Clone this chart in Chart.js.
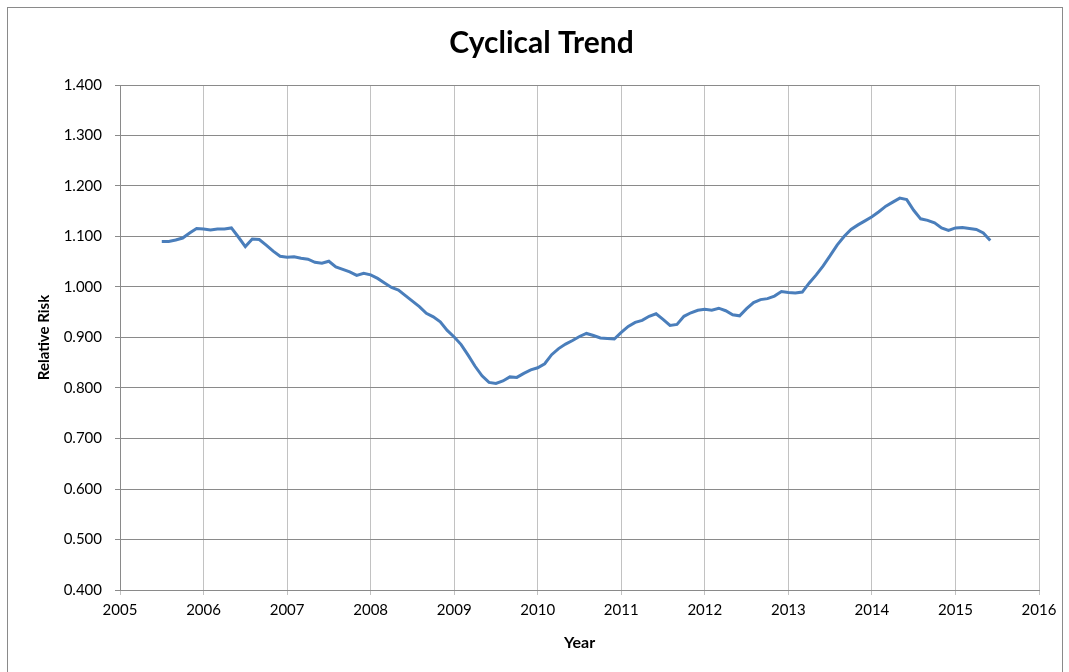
<!DOCTYPE html>
<html>
<head>
<meta charset="utf-8">
<script src="https://cdn.jsdelivr.net/npm/chart.js@4/dist/chart.umd.min.js"></script>
<style>
html,body{margin:0;padding:0;background:#fff;}
#wrap{width:1069px;height:672px;position:relative;}
</style>
</head>
<body>
<div id="wrap"><canvas id="c" width="1069" height="672"></canvas></div>
<script>
// Monthly relative risk values, grouped by calendar year (first value = first month shown)
const v2005 = [1.090, 1.090, 1.093, 1.097, 1.107, 1.116];            // Jul-Dec
const v2006 = [1.115, 1.113, 1.115, 1.115, 1.117, 1.099, 1.080, 1.095, 1.094, 1.083, 1.071, 1.061];
const v2007 = [1.059, 1.060, 1.057, 1.055, 1.049, 1.047, 1.051, 1.040, 1.035, 1.030, 1.023, 1.027];
const v2008 = [1.024, 1.017, 1.008, 0.999, 0.994, 0.983, 0.972, 0.961, 0.948, 0.941, 0.931, 0.914];
const v2009 = [0.901, 0.886, 0.865, 0.843, 0.824, 0.811, 0.809, 0.814, 0.822, 0.821, 0.829, 0.836];
const v2010 = [0.840, 0.848, 0.866, 0.878, 0.887, 0.894, 0.902, 0.908, 0.904, 0.899, 0.898, 0.897];
const v2011 = [0.910, 0.922, 0.930, 0.934, 0.942, 0.947, 0.936, 0.924, 0.926, 0.942, 0.949, 0.954];
const v2012 = [0.956, 0.954, 0.958, 0.953, 0.945, 0.943, 0.957, 0.969, 0.975, 0.977, 0.982, 0.991];
const v2013 = [0.989, 0.988, 0.990, 1.008, 1.024, 1.042, 1.062, 1.083, 1.100, 1.114, 1.123, 1.131];
const v2014 = [1.139, 1.149, 1.160, 1.168, 1.176, 1.173, 1.152, 1.135, 1.132, 1.127, 1.117, 1.112];
const v2015 = [1.117, 1.118, 1.116, 1.114, 1.107, 1.092];            // Jan-Jun

const yearSeries = [
  {year: 2005, firstMonth: 7, values: v2005},
  {year: 2006, firstMonth: 1, values: v2006},
  {year: 2007, firstMonth: 1, values: v2007},
  {year: 2008, firstMonth: 1, values: v2008},
  {year: 2009, firstMonth: 1, values: v2009},
  {year: 2010, firstMonth: 1, values: v2010},
  {year: 2011, firstMonth: 1, values: v2011},
  {year: 2012, firstMonth: 1, values: v2012},
  {year: 2013, firstMonth: 1, values: v2013},
  {year: 2014, firstMonth: 1, values: v2014},
  {year: 2015, firstMonth: 1, values: v2015}
];

const xTickYears = [2005, 2006, 2007, 2008, 2009, 2010, 2011, 2012, 2013, 2014, 2015, 2016];
const yTicks = [0.4, 0.5, 0.6, 0.7, 0.8, 0.9, 1.0, 1.1, 1.2, 1.3, 1.4];

const points = [];
yearSeries.forEach(s => {
  s.values.forEach((v, i) => {
    points.push({x: s.year + (s.firstMonth - 1 + i) / 12, y: v});
  });
});

const FONT = 'Lato, "Open Sans", "DejaVu Sans", sans-serif';

const framePlugin = {
  id: 'frame',
  beforeDraw(chart) {
    const ctx = chart.ctx;
    ctx.save();
    ctx.fillStyle = '#ffffff';
    ctx.fillRect(0, 0, chart.width, chart.height);
    ctx.strokeStyle = '#8a8a8a';
    ctx.lineWidth = 1;
    ctx.strokeRect(7.5, 7.5, 1055, 700);
    ctx.restore();
  }
};

new Chart(document.getElementById('c'), {
  type: 'line',
  data: {
    datasets: [{
      label: 'Relative Risk',
      data: points,
      borderColor: '#4a7ebb',
      borderWidth: 3,
      pointRadius: 0,
      tension: 0,
      fill: false
    }]
  },
  options: {
    responsive: false,
    animation: false,
    layout: {padding: {left: 44, right: 30, top: 0, bottom: 0}},
    plugins: {
      legend: {display: false},
      tooltip: {enabled: false},
      title: {
        display: true,
        text: 'Cyclical Trend',
        color: '#000',
        font: {family: FONT, size: 30, weight: 'bold', lineHeight: 1.2},
        padding: {top: 25, bottom: 24}
      }
    },
    scales: {
      x: {
        type: 'linear',
        min: 2005, max: 2016,
        afterBuildTicks(scale) { scale.ticks = xTickYears.map(v => ({value: v})); },
        afterFit(scale) { scale.height = 82; },
        ticks: {
          color: '#000',
          font: {family: FONT, size: 15},
          padding: 6,
          maxRotation: 0,
          autoSkip: false,
          callback: v => String(v)
        },
        grid: {color: '#c2c2c2', lineWidth: 1, tickLength: 5, drawTicks: true},
        border: {color: '#8a8a8a', width: 1},
        title: {
          display: true, text: 'Year', color: '#000',
          font: {family: FONT, size: 16, weight: 'bold', lineHeight: 1.2},
          padding: {top: 0, bottom: 20}
        }
      },
      y: {
        type: 'linear',
        min: 0.4, max: 1.4,
        afterBuildTicks(scale) { scale.ticks = yTicks.map(v => ({value: v})); },
        afterFit(scale) { scale.width = 76; },
        ticks: {
          color: '#000',
          font: {family: FONT, size: 15},
          padding: 13,
          callback: v => Number(v).toFixed(3)
        },
        grid: {color: '#8a8a8a', lineWidth: 1, tickLength: 5},
        border: {color: '#8a8a8a', width: 1},
        title: {
          display: true, text: 'Relative Risk', color: '#000',
          font: {family: FONT, size: 15, weight: 'bold', lineHeight: 1.2},
          padding: {top: -9, bottom: 0}
        }
      }
    }
  },
  plugins: [framePlugin]
});
</script>
</body>
</html>
